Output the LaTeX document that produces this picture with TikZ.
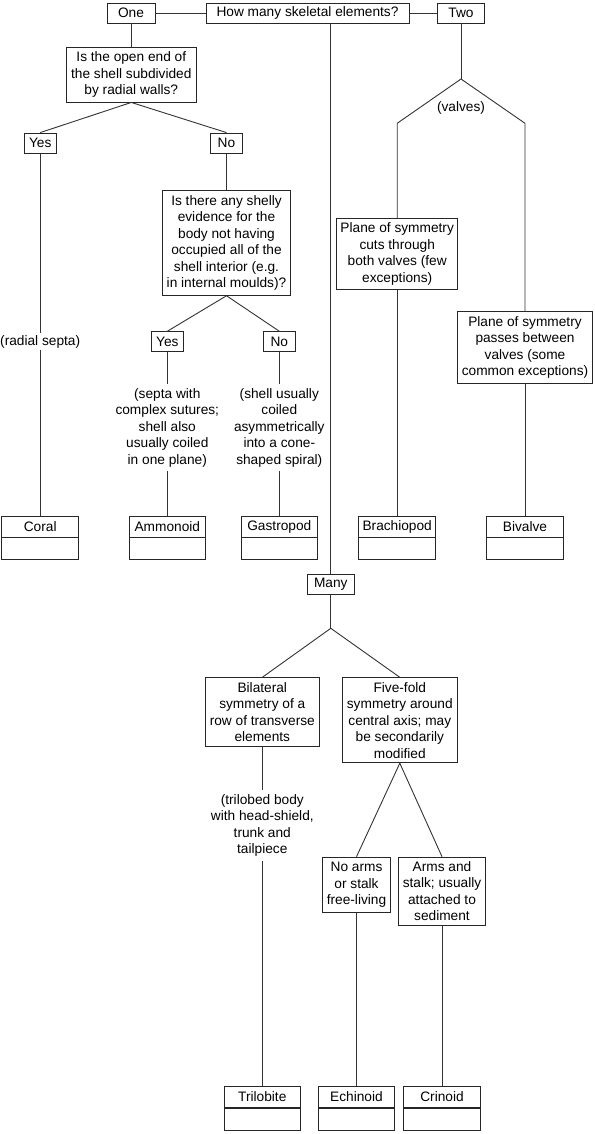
\documentclass[tikz,border=0pt]{standalone}
\usepackage{fontspec}
\setmainfont{Liberation Sans}
\newcommand\fs{\fontsize{13.7}{16.5}\selectfont}
\tikzset{
  box/.style={draw=black!85, line width=0.9pt, inner sep=0pt, align=center, font=\fs},
  conn/.style={draw=black!80, line width=0.9pt},
  lbl/.style={inner sep=0pt, align=center, font=\fs},
}
\newcommand\leafbox[4]{%
  \node[box, minimum width=76.6pt, minimum height=20.8pt, anchor=north] (#1) at (#2,#3) {#4};
  \node[box, minimum width=76.6pt, minimum height=22pt, anchor=north] (#1b) at (#1.south) {};
}
\begin{document}
\begin{tikzpicture}[x=1pt,y=-1pt]
\useasboundingbox (0,0) rectangle (594,1134);
% top row
\node[box, minimum width=48pt, minimum height=20pt] (one) at (131,13) {One};
\node[box, minimum width=203pt, minimum height=20pt] (how) at (307.5,13) {How many skeletal elements?};
\node[box, minimum width=47pt, minimum height=20pt] (two) at (461,13) {Two};
\draw[conn] (one.east) -- (how.west);
\draw[conn] (how.east) -- (two.west);
% One branch
\node[box, minimum width=130.6pt, minimum height=55pt] (q1) at (131.3,74.5) {Is the open end of\\the shell subdivided\\by radial walls?};
\node[box, minimum width=32.4pt, minimum height=20.5pt] (yes1) at (40.2,143.3) {Yes};
\node[box, minimum width=32pt, minimum height=20.5pt] (no1) at (226.5,143.3) {No};
\draw[conn] (one.south) -- (one.south |- q1.north);
\draw[conn] (q1.south) -- (yes1.north);
\draw[conn] (q1.south) -- (no1.north);
\node[lbl, fill=white, inner ysep=2pt] (rad) at (40.2,341.7) {(radial septa)};
\leafbox{coral}{40.2}{515.7}{Coral}
\draw[conn] (yes1.south) -- (rad.north);
\draw[conn] (rad.south) -- (coral.north);
\node[box, minimum width=128.4pt, minimum height=104.6pt] (q2) at (226.5,243) {Is there any shelly\\evidence for the\\body not having\\occupied all of the\\shell interior (e.g.\\in internal moulds)?};
\draw[conn] (no1.south) -- (q2.north);
\node[box, minimum width=32pt, minimum height=20pt] (yes2) at (167.3,341.7) {Yes};
\node[box, minimum width=32pt, minimum height=20pt] (no2) at (279.3,341.7) {No};
\draw[conn] (q2.south) -- (yes2.north);
\draw[conn] (q2.south) -- (no2.north);
\node[lbl, inner ysep=4pt] (sep) at (167.3,427.5) {(septa with\\complex sutures;\\shell also\\usually coiled\\in one plane)};
\node[lbl, inner ysep=4pt] (shl) at (279.3,427.5) {(shell usually\\coiled\\asymmetrically\\into a cone-\\shaped spiral)};
\leafbox{amm}{167.3}{515.7}{Ammonoid}
\leafbox{gas}{279.3}{515.7}{Gastropod}
\draw[conn] (yes2.south) -- (sep.north);
\draw[conn] (sep.south) -- (amm.north);
\draw[conn] (no2.south) -- (shl.north);
\draw[conn] (shl.south) -- (gas.north);
% Two branch
\coordinate (va) at (461,79);
\coordinate (vl) at (397.2,123.3);
\coordinate (vr) at (525,123.3);
\node[lbl] (valves) at (461,108) {(valves)};
\node[box, minimum width=121pt, minimum height=71pt] (p1) at (397.2,253.8) {Plane of symmetry\\cuts through\\both valves (few\\exceptions)};
\node[box, minimum width=135.4pt, minimum height=71.6pt] (p2) at (525,347.5) {Plane of symmetry\\passes between\\valves (some\\common exceptions)};
\draw[conn] (two.south) -- (va);
\draw[conn] (va) -- (vl) -- (p1.north);
\draw[conn] (va) -- (vr) -- (p2.north);
\leafbox{bra}{397.2}{515.7}{Brachiopod}
\leafbox{biv}{525}{515.7}{Bivalve}
\draw[conn] (p1.south) -- (bra.north);
\draw[conn] (p2.south) -- (biv.north);
% Many branch
\node[box, minimum width=47pt, minimum height=20pt] (many) at (330.8,584.3) {Many};
\draw[conn] (how.south -| many.north) -- (many.north);
\coordinate (ma) at (330.8,628.3);
\node[box, minimum width=114pt, minimum height=68.7pt, anchor=north] (bil) at (262.3,677.3) {Bilateral\\symmetry of a\\row of transverse\\elements};
\node[box, minimum width=115pt, minimum height=85pt, anchor=north] (five) at (399.8,677.3) {Five-fold\\symmetry around\\central axis; may\\be secondarily\\modified};
\draw[conn] (many.south) -- (ma);
\draw[conn] (ma) -- (bil.north);
\draw[conn] (ma) -- (five.north);
\node[lbl, inner ysep=4pt] (tri) at (262.3,825.5) {(trilobed body\\with head-shield,\\trunk and\\tailpiece};
\node[box, minimum width=68.4pt, minimum height=55.6pt, anchor=north] (noarms) at (356.5,856.7) {No arms\\or stalk\\free-living};
\node[box, minimum width=86.6pt, minimum height=68.3pt, anchor=north] (arms) at (442,856.7) {Arms and\\stalk; usually\\attached to\\sediment};
\draw[conn] (five.south) -- (noarms.north);
\draw[conn] (five.south) -- (arms.north);
\leafbox{trib}{262.3}{1086}{Trilobite}
\leafbox{ech}{356.5}{1086}{Echinoid}
\leafbox{cri}{442}{1086}{Crinoid}
\draw[conn] (bil.south) -- (tri.north);
\draw[conn] (tri.south) -- (trib.north);
\draw[conn] (noarms.south) -- (ech.north);
\draw[conn] (arms.south) -- (cri.north);
\end{tikzpicture}
\end{document}
